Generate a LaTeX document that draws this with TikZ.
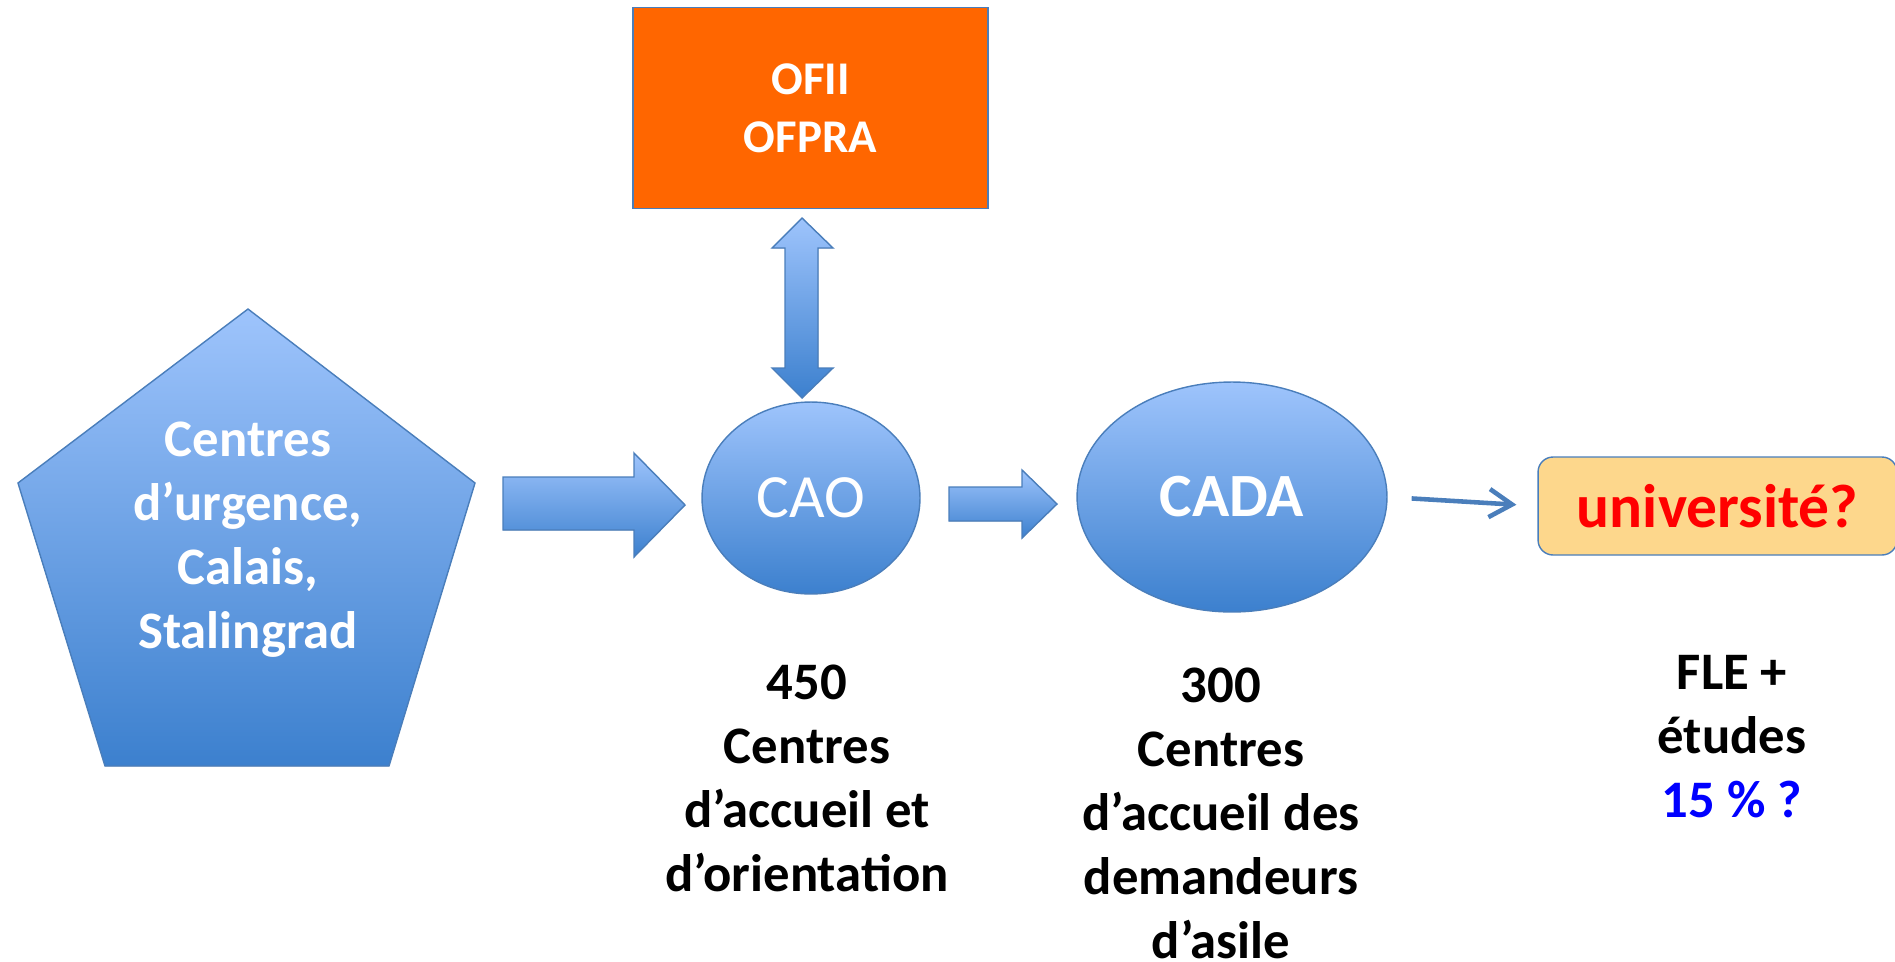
\documentclass[tikz,border=0pt]{standalone}
\usepackage{fontspec}
\setmainfont{Carlito}
\usetikzlibrary{shapes.geometric,arrows.meta}
\definecolor{blueTop}{RGB}{158,196,252}
\definecolor{blueBot}{RGB}{60,128,206}
\definecolor{blueLine}{RGB}{74,126,187}
\definecolor{ofiiOrange}{RGB}{255,102,0}
\definecolor{univFill}{RGB}{253,215,140}
\tikzset{
  bluefill/.style={draw=blueLine, line width=0.8pt, top color=blueTop, bottom color=blueBot},
  bigtxt/.style={font=\bfseries\fontsize{30}{36.4}\selectfont, align=center},
  centre/.style={ellipse, bluefill, text=white, inner sep=0pt}
}

\begin{document}
\begin{tikzpicture}[x=0.02cm,y=-0.02cm]
  \useasboundingbox (0,0) rectangle (1895,961);

  % pentagone de depart
  \filldraw[bluefill] (248,309) -- (475,483) -- (389,766) -- (105,766) -- (18,483) -- cycle;
  \node[bigtxt, text=white] (depart) at (248,540) {Centres\\d’urgence,\\Calais,\\Stalingrad};

  % fleches pleines
  \filldraw[bluefill] (503,477) -- (634,477) -- (634,453) -- (685,505) -- (634,557) -- (634,530) -- (503,530) -- cycle;
  \filldraw[bluefill] (949,487) -- (1022,487) -- (1022,470) -- (1057,504) -- (1022,538) -- (1022,521) -- (949,521) -- cycle;
  \filldraw[bluefill] (802,218) -- (833,248) -- (818,248) -- (818,368) -- (833,368) -- (802,398)
    -- (772,368) -- (785,368) -- (785,248) -- (772,248) -- cycle;

  \node[draw=blueLine, line width=0.8pt, fill=ofiiOrange, minimum width=7.1cm, minimum height=4.02cm,
    text=white, align=center, font=\bfseries\fontsize{26.7}{33}\selectfont] (ofii) at (810.5,108) {OFII\\OFPRA};
  \node[centre, minimum width=4.36cm, minimum height=3.84cm, font=\fontsize{35}{42}\selectfont] (cao) at (811,498) {CAO};
  \node[centre, minimum width=6.2cm, minimum height=4.6cm, font=\bfseries\fontsize{35}{42}\selectfont] (cada) at (1232,497) {CADA};
  \node[draw=blueLine, line width=0.8pt, fill=univFill, rounded corners=0.3cm, minimum width=7.18cm, minimum height=1.96cm,
    text=red, font=\bfseries\fontsize{35}{42}\selectfont] (univ) at (1717.5,506) {université?};

  \draw[blueLine, line width=2.6pt, shorten <=0.48cm, shorten >=0.42cm,
    -{Straight Barb[length=13pt,width=16pt]}] (cada.east) -- (univ.west);

  % chiffres
  \node[bigtxt] (lab450) at (807,778) {450\\Centres\\d’accueil et\\d’orientation};
  \node[bigtxt] (lab300) at (1221,813) {300\\Centres\\d’accueil des\\demandeurs\\d’asile};
  \node[bigtxt] (labfle) at (1732,737) {FLE +\\études\\\textcolor{blue}{15 \% ?}};
\end{tikzpicture}
\end{document}
